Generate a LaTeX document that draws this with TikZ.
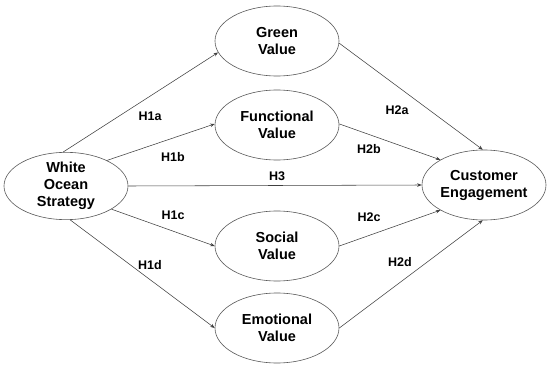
\documentclass[tikz,border=0pt]{standalone}
\usepackage{fontspec}
\setmainfont{Liberation Sans}
\usetikzlibrary{shapes.geometric,arrows.meta}
\begin{document}
\begin{tikzpicture}[x=1pt,y=-1pt,
  ell/.style={draw=black!65,line width=0.6pt,ellipse,minimum width=124pt,minimum height=70pt,inner sep=0pt,
    font=\fontsize{14.5}{17}\selectfont\bfseries,align=center},
  conn/.style={draw=black!75,line width=0.55pt,-{Stealth[length=4.5pt,width=3.5pt]}},
  hlab/.style={font=\fontsize{12.5}{14}\selectfont\bfseries}]
\useasboundingbox (0,0) rectangle (550,367);
\node[ell,minimum height=67pt] (wos) at (66,186) {White\\Ocean\\Strategy};
\node[ell] (green) at (277,41) {Green\\Value};
\node[ell] (func) at (277,125) {Functional\\Value};
\node[ell] (soc) at (277,246) {Social\\Value};
\node[ell] (emo) at (277,328) {Emotional\\Value};
\node[ell] (ce) at (484,185) {Customer\\Engagement};
\draw[conn] (wos.95) -- (green.191);
\draw[conn] (wos.32) -- (func.179);
\draw[conn] (wos.-27) -- (soc.180);
\draw[conn] (wos.-83) -- (emo.180);
\draw[conn] (wos.east) -- (ce.west);
\draw[conn] (green.-2) -- (ce.92);
\draw[conn] (func.1) -- (ce.150);
\draw[conn] (soc.0) -- (ce.210);
\draw[conn] (emo.0) -- (ce.268);
\node[hlab] (l1a) at (150,116) {H1a};
\node[hlab] (l1b) at (173,157) {H1b};
\node[hlab] (l1c) at (173,215) {H1c};
\node[hlab] (l1d) at (150,265) {H1d};
\node[hlab] (l3) at (277,176) {H3};
\node[hlab] (l2a) at (397,110) {H2a};
\node[hlab] (l2b) at (369,149) {H2b};
\node[hlab] (l2c) at (369,217) {H2c};
\node[hlab] (l2d) at (400,262) {H2d};
\end{tikzpicture}
\end{document}
